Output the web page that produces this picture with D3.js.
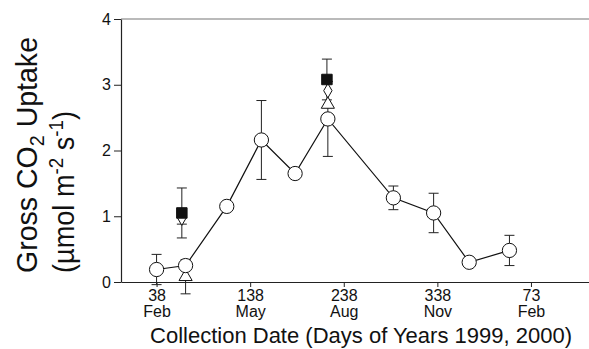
<!DOCTYPE html>
<html>
<head>
<meta charset="utf-8">
<script src="https://cdn.jsdelivr.net/npm/d3@7"></script>
<style>
  body { margin: 0; background: #fff; }
  svg text { font-family: "Liberation Sans", Arial, Helvetica, sans-serif; fill: #111; }
</style>
</head>
<body>
<div id="chart"></div>
<script>
// frame size
const FRAME_WIDTH = 589;
const FRAME_HEIGHT = 349;
const MARGINS = {left: 121, right: 0, top: 19, bottom: 67};

// data (day of year, counted on from 1999 into 2000)
const circleDays = [38, 69, 113, 150, 186, 221, 291, 334, 372, 415];
const circleVals = [0.19, 0.25, 1.15, 2.16, 1.65, 2.48, 1.28, 1.05, 0.30, 0.48];
const circleErr  = [0.23, 0.05, 0, 0.60, 0, 0.57, 0.18, 0.30, 0.06, 0.23];

const squareDays = [65, 220];
const squareVals = [1.05, 3.08];
const squareErr  = [0.38, 0.31];

const diamondDays = [65, 221];
const diamondVals = [0.97, 2.91];
const diamondErr  = [0.09, 0];

const triangleDays = [69, 221];
const triangleVals = [0.08, 2.70];
const triangleErr  = [0.26, 0];

const xTickDays   = [38, 138, 238, 338, 438];
const xTickLabels = ["38", "138", "238", "338", "73"];
const xMonths     = ["Feb", "May", "Aug", "Nov", "Feb"];
const yTicks      = [0, 1, 2, 3, 4];

const X_SCALE = d3.scaleLinear()
                  .domain([0, 500])
                  .range([MARGINS.left, FRAME_WIDTH - MARGINS.right]);

const Y_SCALE = d3.scaleLinear()
                  .domain([0, 4])
                  .range([FRAME_HEIGHT - MARGINS.bottom, MARGINS.top]);

const FRAME = d3.select("#chart")
                .append("svg")
                .attr("width", FRAME_WIDTH)
                .attr("height", FRAME_HEIGHT);

// top border line
FRAME.append("line")
     .attr("x1", MARGINS.left).attr("x2", FRAME_WIDTH)
     .attr("y1", Y_SCALE(4)).attr("y2", Y_SCALE(4))
     .style("stroke", "#777").style("stroke-width", 1.2);

// y axis
const yAxis = FRAME.append("g")
     .attr("transform", "translate(" + MARGINS.left + ",0)")
     .call(d3.axisLeft(Y_SCALE).tickValues(yTicks).tickFormat(d3.format("d"))
             .tickSize(7).tickSizeOuter(0).tickPadding(3));

// x axis
const xAxis = FRAME.append("g")
     .attr("transform", "translate(0," + Y_SCALE(0) + ")")
     .call(d3.axisBottom(X_SCALE).tickValues(xTickDays).tickSize(5).tickSizeOuter(0)
             .tickFormat((d, i) => xTickLabels[i]).tickPadding(3));

[yAxis, xAxis].forEach(ax => {
  ax.select(".domain").style("stroke", "#222").style("stroke-width", 1.2);
  ax.selectAll(".tick line").style("stroke", "#222");
  ax.selectAll("text").style("font-size", "16px").style("font-family", "'Liberation Sans', Arial, sans-serif").attr("fill", "#111");
});

// month names under the day ticks
xAxis.selectAll(".tick")
     .append("text")
     .attr("y", 35)
     .attr("fill", "#111")
     .style("font-size", "16px")
     .attr("text-anchor", "middle")
     .text((d, i) => xMonths[i]);

// x title
FRAME.append("text")
     .attr("x", 361).attr("y", 343)
     .attr("text-anchor", "middle")
     .style("font-size", "22px")
     .text("Collection Date (Days of Years 1999, 2000)");

// y title, two lines
const yTitle1 = FRAME.append("text")
     .attr("transform", "translate(37,273) rotate(-90)")
     .attr("textLength", 236).attr("lengthAdjust", "spacingAndGlyphs")
     .style("font-size", "29px");
yTitle1.append("tspan").text("Gross CO");
yTitle1.append("tspan").attr("dy", 7).style("font-size", "20px").text("2");
yTitle1.append("tspan").attr("dy", -7).text(" Uptake");

const yTitle2 = FRAME.append("text")
     .attr("transform", "translate(74,273) rotate(-90)")
     .attr("textLength", 162).attr("lengthAdjust", "spacingAndGlyphs")
     .style("font-size", "29px");
yTitle2.append("tspan").text("(\u00b5mol m");
yTitle2.append("tspan").attr("dy", -11).style("font-size", "20px").text("-2");
yTitle2.append("tspan").attr("dy", 11).text(" s");
yTitle2.append("tspan").attr("dy", -11).style("font-size", "20px").text("-1");
yTitle2.append("tspan").attr("dy", 11).text(")");

// helper to zip arrays into points
function zip(days, vals, errs) {
  return days.map((d, i) => ({day: d, val: vals[i], err: errs[i]}));
}
const circles   = zip(circleDays, circleVals, circleErr);
const squares   = zip(squareDays, squareVals, squareErr);
const diamonds  = zip(diamondDays, diamondVals, diamondErr);
const triangles = zip(triangleDays, triangleVals, triangleErr);

// error bars
function errorBars(data) {
  const g = FRAME.append("g").style("stroke", "#222").style("stroke-width", 1);
  const withErr = data.filter(d => d.err > 0);
  g.selectAll("line.v").data(withErr).enter().append("line")
   .attr("x1", d => X_SCALE(d.day)).attr("x2", d => X_SCALE(d.day))
   .attr("y1", d => Y_SCALE(d.val + d.err)).attr("y2", d => Y_SCALE(d.val - d.err));
  [1, -1].forEach(s => {
    g.selectAll("line.c" + s).data(withErr).enter().append("line")
     .attr("x1", d => X_SCALE(d.day) - 5).attr("x2", d => X_SCALE(d.day) + 5)
     .attr("y1", d => Y_SCALE(d.val + s * d.err)).attr("y2", d => Y_SCALE(d.val + s * d.err));
  });
}
errorBars(circles);
errorBars(squares);
errorBars(diamonds);
errorBars(triangles);

// connecting line for the circle series
FRAME.append("path")
     .datum(circles)
     .attr("d", d3.line().x(d => X_SCALE(d.day)).y(d => Y_SCALE(d.val)))
     .style("fill", "none").style("stroke", "#111").style("stroke-width", 1.2);

// markers
function markers(data, type, size, fill) {
  FRAME.selectAll(null).data(data).enter().append("path")
       .attr("transform", d => "translate(" + X_SCALE(d.day) + "," + Y_SCALE(d.val) + ")")
       .attr("d", d3.symbol().type(type).size(size))
       .style("fill", fill).style("stroke", "#111").style("stroke-width", 1);
}
markers(triangles, d3.symbolTriangle, 75, "#fff");
markers(diamonds, d3.symbolDiamond, 60, "#fff");
markers(squares, d3.symbolSquare, 110, "#111");
markers(circles, d3.symbolCircle, 160, "#fff");
</script>
</body>
</html>
